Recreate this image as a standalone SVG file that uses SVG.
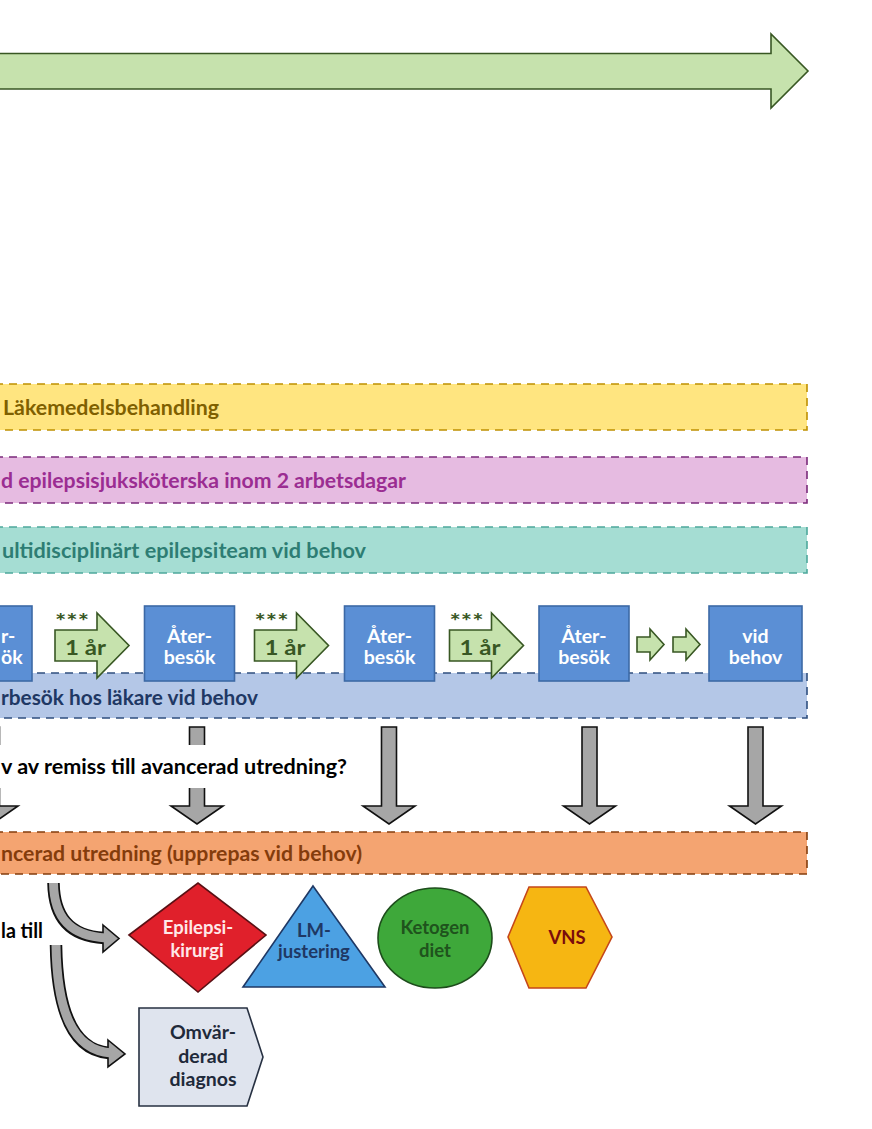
<svg xmlns="http://www.w3.org/2000/svg" width="872" height="1129" viewBox="0 0 872 1129">
<style>
.t{font-family:Lato,"Liberation Sans","DejaVu Sans",sans-serif;font-weight:bold}
.band{stroke-width:1.6;stroke-dasharray:8 6}
.box{fill:#5b8fd5;stroke:#3c69a6;stroke-width:1.6}
.bt{fill:#ffffff;font-size:19.5px;text-anchor:middle}
.garrow{fill:#c6e2ad;stroke:#385723;stroke-width:1.6;stroke-linejoin:miter}
.gray{fill:#a6a6a6;stroke:#111;stroke-width:1.6;stroke-linejoin:miter}
.ctr{text-anchor:middle}
.st{font-size:18.5px}
</style>
<rect width="872" height="1129" fill="#ffffff"/>

<g id="timeline">
<polygon class="garrow" points="-5,53.5 771,53.5 771,34 808,71 771,108 771,89 -5,89"/>
</g>

<g id="band-lakemedel">
<rect class="band" x="-5" y="384" width="812" height="46" fill="#ffe580" stroke="#bf9000"/>
<text class="t" x="3" y="415" font-size="20" fill="#7f6000" textLength="216" lengthAdjust="spacingAndGlyphs">Läkemedelsbehandling</text>
</g>

<g id="band-sjukskoterska">
<rect class="band" x="-5" y="457" width="812" height="46" fill="#e6bbe1" stroke="#7b2a7b"/>
<text class="t" x="1" y="488" font-size="20" fill="#9b2d92" textLength="405" lengthAdjust="spacingAndGlyphs">d epilepsisjuksköterska inom 2 arbetsdagar</text>
</g>

<g id="band-epilepsiteam">
<rect class="band" x="-5" y="527" width="812" height="46" fill="#a5ddd3" stroke="#4ea89c"/>
<text class="t" x="2" y="558" font-size="20" fill="#2e7d74" textLength="364" lengthAdjust="spacingAndGlyphs">ultidisciplinärt epilepsiteam vid behov</text>
</g>

<g id="band-lakare">
<rect class="band" x="-5" y="673" width="812" height="45" fill="#b4c7e7" stroke="#2f4f7f"/>
<text class="t" x="1" y="705" font-size="20" fill="#1f3864" textLength="257" lengthAdjust="spacingAndGlyphs">rbesök hos läkare vid behov</text>
</g>

<g id="band-utredning">
<rect class="band" x="-5" y="832" width="812" height="42" fill="#f4a471" stroke="#843c0c"/>
<text class="t" x="1" y="861" font-size="20" fill="#843c0c" textLength="361" lengthAdjust="spacingAndGlyphs">ncerad utredning (upprepas vid behov)</text>
</g>

<g id="connectors">
<g id="arrow-year-1">
<polygon class="garrow" points="55,630 97,630 97,613 129,645.5 97,678 97,661 55,661"/>
<text class="t" x="55" y="629" font-size="20" fill="#385723" textLength="34" lengthAdjust="spacingAndGlyphs">***</text>
<text class="t" x="65" y="655" font-size="21" fill="#385723" textLength="41" lengthAdjust="spacingAndGlyphs">1 år</text>
</g>
<g id="arrow-year-2" transform="translate(199.5,0)">
<polygon class="garrow" points="55,630 97,630 97,613 129,645.5 97,678 97,661 55,661"/>
<text class="t" x="55" y="629" font-size="20" fill="#385723" textLength="34" lengthAdjust="spacingAndGlyphs">***</text>
<text class="t" x="65" y="655" font-size="21" fill="#385723" textLength="41" lengthAdjust="spacingAndGlyphs">1 år</text>
</g>
<g id="arrow-year-3" transform="translate(394.5,0)">
<polygon class="garrow" points="55,630 97,630 97,613 129,645.5 97,678 97,661 55,661"/>
<text class="t" x="55" y="629" font-size="20" fill="#385723" textLength="34" lengthAdjust="spacingAndGlyphs">***</text>
<text class="t" x="65" y="655" font-size="21" fill="#385723" textLength="41" lengthAdjust="spacingAndGlyphs">1 år</text>
</g>
<polygon class="garrow" points="637,637 650,637 650,629 664,644.5 650,660 650,652 637,652"/>
<polygon class="garrow" points="673,637 686,637 686,629 700,644.5 686,660 686,652 673,652"/>

<polygon class="gray" points="-15.5,727 -0.5,727 -0.5,806 18,806 -8,824 -34,806 -15.5,806"/>
<polygon class="gray" points="189.5,727 204.5,727 204.5,806 223,806 197,824 171,806 189.5,806"/>
<polygon class="gray" points="381.5,727 396.5,727 396.5,806 415,806 389,824 363,806 381.5,806"/>
<polygon class="gray" points="582,727 597,727 597,806 615.5,806 589.5,824 563.5,806 582,806"/>
<polygon class="gray" points="748,727 763,727 763,806 781.5,806 755.5,824 729.5,806 748,806"/>

<path d="M 53.5 883 C 54 915, 68 936, 104 938" fill="none" stroke="#111" stroke-width="12.5"/>
<polygon points="103,925 119,938.5 103,952" fill="#a6a6a6" stroke="#111" stroke-width="1.6" stroke-linejoin="miter"/>
<path d="M 53.5 883 C 54 915, 68 936, 106 938" fill="none" stroke="#a6a6a6" stroke-width="9"/>

<path d="M 56 945 C 57 1010, 72 1050, 109 1053" fill="none" stroke="#111" stroke-width="12.5"/>
<polygon points="108,1040 125,1054 108,1067" fill="#a6a6a6" stroke="#111" stroke-width="1.6" stroke-linejoin="miter"/>
<path d="M 56 945 C 57 1010, 72 1050, 111 1053" fill="none" stroke="#a6a6a6" stroke-width="9"/>
</g>

<g id="question">
<rect x="-5" y="745" width="360" height="43" fill="#ffffff"/>
<text class="t" x="1" y="774" font-size="20" fill="#000000" textLength="346" lengthAdjust="spacingAndGlyphs">v av remiss till avancerad utredning?</text>
</g>

<g id="label-valja">
<text class="t" x="1" y="938" font-size="20" fill="#000000" textLength="42" lengthAdjust="spacingAndGlyphs">la till</text>
</g>

<g id="visit-0">
<rect class="box" x="-20" y="606" width="52" height="75"/>
<text class="t" x="1" y="643" font-size="19.5" fill="#ffffff">r-</text>
<text class="t" x="1" y="664" font-size="19.5" fill="#ffffff">ök</text>
</g>
<g id="visit-1">
<rect class="box" x="144.5" y="606" width="90" height="75"/>
<text class="t bt" x="189.5" y="643">Åter-</text>
<text class="t bt" x="189.5" y="664">besök</text>
</g>
<g id="visit-2">
<rect class="box" x="344.5" y="606" width="90" height="75"/>
<text class="t bt" x="389.5" y="643">Åter-</text>
<text class="t bt" x="389.5" y="664">besök</text>
</g>
<g id="visit-3">
<rect class="box" x="539" y="606" width="90" height="75"/>
<text class="t bt" x="584" y="643">Åter-</text>
<text class="t bt" x="584" y="664">besök</text>
</g>
<g id="visit-need">
<rect class="box" x="709" y="606" width="93" height="75"/>
<text class="t bt" x="755.5" y="643">vid</text>
<text class="t bt" x="755.5" y="664">behov</text>
</g>

<g id="epilepsikirurgi">
<polygon points="129,935 198,883 266,935 198,992" fill="#e0202b" stroke="#5a1014" stroke-width="1.6"/>
<text class="t ctr st" x="198" y="934" fill="#ffe8e8">Epilepsi-</text>
<text class="t ctr st" x="197" y="957" fill="#ffe8e8">kirurgi</text>
</g>

<g id="lm-justering">
<polygon points="313,886 385,987 243,987" fill="#4ca1e3" stroke="#1f3864" stroke-width="1.6"/>
<text class="t ctr st" x="314" y="937" fill="#1f3864">LM-</text>
<text class="t ctr st" x="314" y="958" fill="#1f3864">justering</text>
</g>

<g id="ketogen-diet">
<ellipse cx="435" cy="938" rx="57" ry="50" fill="#3ea83a" stroke="#1d4d1b" stroke-width="1.6"/>
<text class="t ctr st" x="435" y="934" fill="#1f531d">Ketogen</text>
<text class="t ctr st" x="435" y="957" fill="#1f531d">diet</text>
</g>

<g id="vns">
<polygon points="508,937 529,887 586,887 612,937 586,988 529,988" fill="#f6b612" stroke="#c5471a" stroke-width="1.6"/>
<text class="t ctr st" x="567" y="944" fill="#7a0c0c">VNS</text>
</g>

<g id="omvarderad-diagnos">
<polygon points="139,1008 247,1008 263,1057 247,1106 139,1106" fill="#dfe4ee" stroke="#273142" stroke-width="1.6"/>
<text class="t ctr" x="203" y="1039" font-size="19.5" fill="#1f2a3a">Omvär-</text>
<text class="t ctr" x="203" y="1063" font-size="19.5" fill="#1f2a3a">derad</text>
<text class="t ctr" x="203" y="1086" font-size="19.5" fill="#1f2a3a">diagnos</text>
</g>
</svg>
